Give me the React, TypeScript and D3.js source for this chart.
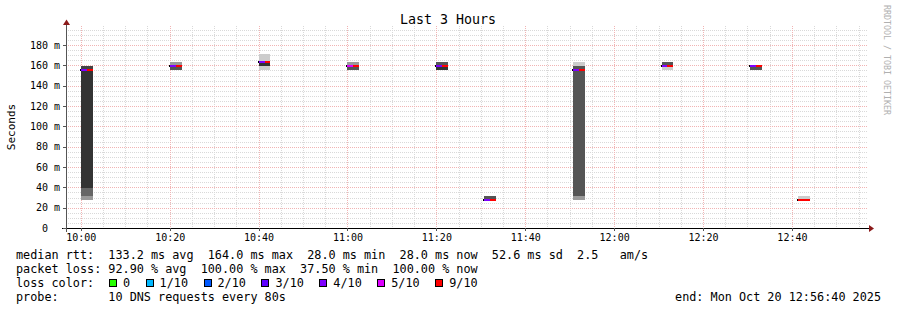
import React from "react";
import * as d3 from "d3";

const title = "Last 3 Hours";
const yLabel = "Seconds";
const startTime = "2025-10-20T09:56:40";
const endTime = "2025-10-20T12:56:40";
const yTicks = [0, 20, 40, 60, 80, 100, 120, 140, 160, 180];
const xTickLabels = ["10:00", "10:20", "10:40", "11:00", "11:20", "11:40", "12:00", "12:20", "12:40"];

const blockTimes = ["10:00:00", "10:20:00", "10:40:00", "11:00:00", "11:20:00", "11:30:40", "11:50:40", "12:10:40", "12:30:40", "12:41:20"];
const medianMs = [155.4, 159.8, 163.3, 159.8, 159.8, 28.0, 155.4, 159.8, 159.8, 28.0];
const lossFirst = ["4/10", "4/10", "4/10", "5/10", "4/10", "4/10", "4/10", "4/10", "4/10", "9/10"];
const lossSecond = ["9/10", "9/10", "9/10", "9/10", "9/10", "9/10", "9/10", "9/10", "9/10", "9/10"];
// smoke bands: [lo ms, hi ms, density grey level]
const smokeBands: [number, number, number][][] = [
  [[27.5, 31.5, 0x99], [31.5, 39.3, 0x66], [39.3, 159.3, 0x33], [155.4, 159.3, 0x44]],
  [[155.4, 159.3, 0x55], [159.3, 163.3, 0x99]],
  [[155.4, 171.1, 0xcc], [159.3, 162.3, 0x33]],
  [[155.4, 159.3, 0x55], [159.3, 163.3, 0x99]],
  [[155.4, 159.3, 0x33], [159.3, 163.3, 0x55]],
  [[28.0, 31.5, 0x55]],
  [[27.5, 31.5, 0x99], [31.5, 159.3, 0x55], [159.3, 163.3, 0xcc]],
  [[155.4, 159.3, 0xcc], [159.3, 163.3, 0x55]],
  [[155.4, 159.3, 0x55]],
  [[28.0, 31.5, 0xcc]],
];

const lossLegend = ["0", "1/10", "2/10", "3/10", "4/10", "5/10", "9/10"];
const lossColors: Record<string, string> = {
  "0": "#26ff00",
  "1/10": "#00b8ff",
  "2/10": "#0059ff",
  "3/10": "#5e00ff",
  "4/10": "#7e00ff",
  "5/10": "#dd00ff",
  "9/10": "#ff0000",
};

const legendRtt = "median rtt:  133.2 ms avg  164.0 ms max  28.0 ms min  28.0 ms now  52.6 ms sd  2.5   am/s";
const legendLoss = "packet loss: 92.90 % avg  100.00 % max  37.50 % min  100.00 % now";
const legendProbe = "probe:       10 DNS requests every 80s";
const legendEnd = "end: Mon Oct 20 12:56:40 2025";
const watermark = "RRDTOOL / TOBI OETIKER";

const W = 897;
const H = 310;
const STEP_S = 80;
const MONO = "'DejaVu Sans Mono', monospace";

export default function App() {
  const parse = (s: string) => new Date(s);
  const t0 = parse(startTime);
  const t1 = parse(endTime);
  const x = d3.scaleTime().domain([t0, t1]).range([66, 866]);
  const y = d3.scaleLinear().domain([0, 180]).range([228, 45]);
  const plotTop = 26;
  const yMax = y.invert(plotTop);

  const minorY = d3.range(5, yMax, 5).filter((v) => v % 20 !== 0);
  const majorY = d3.range(20, yMax, 20);
  const minorX = d3.timeMinute.every(5)!.range(t0, t1).filter((d) => d.getMinutes() % 20 !== 0);
  const majorX = d3.timeMinute.every(20)!.range(t0, t1);

  const blockDate = (s: string) => parse("2025-10-20T" + s);
  const fmt = d3.timeFormat("%H:%M");

  const fs = 11.8;
  const charW = fs * 0.602;
  const legendX = 16;

  let bx = 109;
  const lossItems = lossLegend.map((l) => {
    const item = { l, bx, tx: bx + 14 };
    bx = bx + 14 + l.length * charW + 15.5;
    return item;
  });

  const minorC = "#d9d9d9";
  const majorC = "#f1b4b4";

  return (
    <div style={{ position: "absolute", left: 0, top: 0 }}>
      <svg width={W} height={H} style={{ display: "block", background: "#fff" }}>
        <rect x={0} y={0} width={W} height={H} fill="#fff" />
        <g shapeRendering="crispEdges">
          {minorY.map((v) => (
            <line key={"my" + v} x1={66} x2={868} y1={Math.round(y(v)) + 0.5} y2={Math.round(y(v)) + 0.5}
              stroke={minorC} strokeDasharray="1,1" />
          ))}
          {minorX.map((d, i) => (
            <line key={"mx" + i} x1={Math.round(x(d)) + 0.5} x2={Math.round(x(d)) + 0.5} y1={plotTop} y2={228}
              stroke={minorC} strokeDasharray="1,1" />
          ))}
          {majorY.map((v) => (
            <line key={"My" + v} x1={66} x2={868} y1={Math.round(y(v)) + 0.5} y2={Math.round(y(v)) + 0.5}
              stroke={majorC} strokeDasharray="1,1" />
          ))}
          {majorX.map((d, i) => (
            <line key={"Mx" + i} x1={Math.round(x(d)) + 0.5} x2={Math.round(x(d)) + 0.5} y1={plotTop} y2={228}
              stroke={majorC} strokeDasharray="1,1" />
          ))}
        </g>
        <g shapeRendering="crispEdges">
          {blockTimes.map((bt, i) => {
            const d0 = blockDate(bt);
            const dm = new Date(d0.getTime() + STEP_S * 1000);
            const d1 = new Date(d0.getTime() + 2 * STEP_S * 1000);
            const xa = Math.round(x(d0));
            const xm = Math.round(x(dm));
            const xb = Math.round(x(d1));
            const ym = Math.round(y(medianMs[i]));
            return (
              <g key={"b" + i}>
                {smokeBands[i].map(([lo, hi, g], j) => {
                  const ya = Math.round(y(hi));
                  const yb = Math.round(y(lo));
                  const c = d3.rgb(g, g, g).formatHex();
                  return <rect key={j} x={xa} y={ya} width={xb - xa} height={Math.max(1, yb - ya)} fill={c} />;
                })}
                <rect x={xa - 1} y={ym - 1} width={1} height={2} fill="#000" />
                <rect x={xa} y={ym - 1} width={xm - xa} height={2} fill={lossColors[lossFirst[i]]} />
                <rect x={xm} y={ym - 1} width={xb - xm} height={2} fill={lossColors[lossSecond[i]]} />
              </g>
            );
          })}
        </g>
        <g shapeRendering="crispEdges">
          <line x1={62} x2={869} y1={228.5} y2={228.5} stroke="#000" />
          <line x1={66.5} x2={66.5} y1={24} y2={232} stroke="#555" />
          {majorX.map((d, i) => (
            <line key={"tx" + i} x1={Math.round(x(d)) + 0.5} x2={Math.round(x(d)) + 0.5} y1={228} y2={231} stroke="#555" />
          ))}
          {yTicks.map((v) => (
            <line key={"ty" + v} x1={63} x2={66} y1={Math.round(y(v)) + 0.5} y2={Math.round(y(v)) + 0.5} stroke="#555" />
          ))}
        </g>
        <path d="M869,225 L874,228.5 L869,232 Z" fill="#8b1a1a" />
        <path d="M63.5,25 L67,19.5 L70.5,25 Z" fill="#8b1a1a" transform="translate(-0.5,0)" />
        {yTicks.map((v) => (
          <text key={"yl" + v} x={v === 0 ? 48 : 60} y={y(v) + 3.5} textAnchor="end" fontFamily={MONO} fontSize={10} fill="#000">
            {v === 0 ? "0" : `${v} m`}
          </text>
        ))}
        {majorX.map((d, i) => (
          <text key={"xl" + i} x={x(d) + 0.5} y={241} textAnchor="middle" fontFamily={MONO} fontSize={10} fill="#000">
            {xTickLabels[i] ?? fmt(d)}
          </text>
        ))}
        <text x={448} y={24} textAnchor="middle" fontFamily={MONO} fontSize={13.3} fill="#000">{title}</text>
        <text transform="translate(15,127) rotate(-90)" textAnchor="middle" fontFamily={MONO} fontSize={11} fill="#000">{yLabel}</text>
        <text transform="translate(884,5) rotate(90)" textAnchor="start" fontFamily={MONO} fontSize={8.3} fill="#b0b0b0">{watermark}</text>
        <g fontFamily={MONO} fontSize={fs} fill="#000">
          <text x={legendX} y={259} style={{ whiteSpace: "pre" }}>{legendRtt}</text>
          <text x={legendX} y={272.5} style={{ whiteSpace: "pre" }}>{legendLoss}</text>
          <text x={legendX} y={287} style={{ whiteSpace: "pre" }}>loss color:</text>
          {lossItems.map((it) => (
            <g key={it.l}>
              <rect x={it.bx + 0.5} y={279.5} width={7} height={7} fill={lossColors[it.l]} stroke="#000" shapeRendering="crispEdges" />
              <text x={it.tx} y={287}>{it.l}</text>
            </g>
          ))}
          <text x={legendX} y={300.5} style={{ whiteSpace: "pre" }}>{legendProbe}</text>
          <text x={881} y={300.5} textAnchor="end" style={{ whiteSpace: "pre" }}>{legendEnd}</text>
        </g>
      </svg>
    </div>
  );
}
